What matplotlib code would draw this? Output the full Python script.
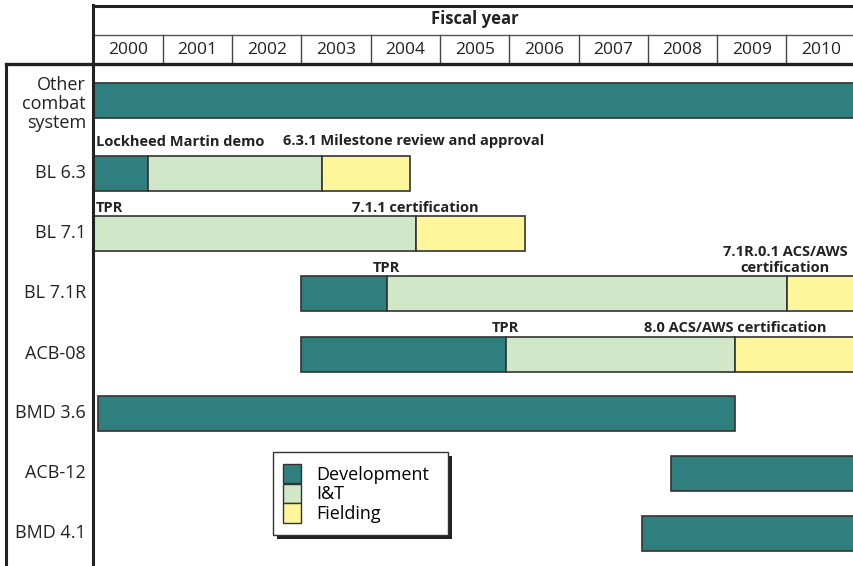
import matplotlib
matplotlib.use("Agg")
import matplotlib.pyplot as plt
from matplotlib.patches import Patch, Rectangle
from matplotlib.lines import Line2D

# ---------------- data ----------------
years = ["2000", "2001", "2002", "2003", "2004", "2005", "2006", "2007", "2008", "2009", "2010"]
rows = ["Other\ncombat\nsystem", "BL 6.3", "BL 7.1", "BL 7.1R", "ACB-08", "BMD 3.6", "ACB-12", "BMD 4.1"]
# phases per row: (start, end) in fiscal-year units (0 = start of FY2000), None = no phase
dev_start = [0.0, 0.0, None, 2.99, 2.99, 0.07, 8.34, 7.92]
dev_end   = [11.5, 0.79, None, 4.23, 5.95, 9.26, 11.5, 11.5]
it_start  = [None, 0.79, 0.0, 4.23, 5.95, None, None, None]
it_end    = [None, 3.30, 4.65, 10.01, 9.26, None, None, None]
fld_start = [None, 3.30, 4.65, 10.01, 9.26, None, None, None]
fld_end   = [None, 4.57, 6.23, 11.5, 11.5, None, None, None]
phases = ["Development", "I&T", "Fielding"]
colors = ["#2f7f7f", "#d1e8c8", "#fff59a"]

# milestone annotations: row index, x in FY units, text, alignment
ann_row = [1, 1, 2, 2, 3, 3, 4, 4]
ann_x = [0.03, 4.62, 0.03, 4.65, 4.23, 9.98, 5.95, 9.26]
ann_text = ["Lockheed Martin demo", "6.3.1 Milestone review and approval", "TPR",
            "7.1.1 certification", "TPR", "7.1R.0.1 ACS/AWS\ncertification", "TPR",
            "8.0 ACS/AWS certification"]
ann_ha = ["left", "center", "left", "center", "center", "center", "center", "center"]

# ---------------- layout ----------------
W, H = 854, 566
plt.rcParams["font.family"] = ["Open Sans", "DejaVu Sans"]
fig = plt.figure(figsize=(W / 100, H / 100), dpi=100)

x0px, y_hdr_top, y_mid, y_hdr_bot = 93.5, 5.5, 35, 63.5
yr_px = 69.3  # pixels per fiscal year


def fx(px):
    return px / W


def fy(py):
    return 1 - py / H


# main bar axes
ax = fig.add_axes([fx(x0px), 0, 1 - fx(x0px), fy(y_hdr_bot)])
xmax = (W - x0px) / yr_px
ax.set_xlim(0, xmax)
row_px = [100, 173, 233, 293, 354, 413, 473, 533]
ypos = [(p - 113) / 60 for p in row_px]
ax.set_ylim((H - 113) / 60, (y_hdr_bot - 113) / 60)
ax.axis("off")
bh = 35 / 60

starts = [dev_start, it_start, fld_start]
ends = [dev_end, it_end, fld_end]
for k in range(3):
    for i in range(len(rows)):
        s, e = starts[k][i], ends[k][i]
        if s is None:
            continue
        ax.barh(ypos[i], e - s, left=s, height=bh, color=colors[k],
                edgecolor="#333333", linewidth=1.2, zorder=2)

for r, x, t, ha in zip(ann_row, ann_x, ann_text, ann_ha):
    gap = (7 if r == 1 else 1) / 60
    yy = ypos[r] - bh / 2 - gap
    ax.text(x, yy, t, ha=ha, va="bottom", fontsize=10.5, fontweight="bold",
            color="#222222", linespacing=1.12, zorder=3)

# row labels
for i, lab in enumerate(rows):
    off = 4 if "\n" in lab else 0
    fig.text(fx(86), fy(row_px[i] + off), lab, ha="right", va="center", fontsize=13,
             color="#222222", linespacing=1.08)

# header
for j, y in enumerate(years):
    cx = x0px + (j + 0.5) * yr_px
    fig.text(fx(cx), fy(49.5), y, ha="center", va="center", fontsize=12.5, color="#222222")
    if j > 0:
        bx = x0px + j * yr_px
        fig.add_artist(Line2D([fx(bx), fx(bx)], [fy(y_mid), fy(y_hdr_bot)],
                              color="#444444", lw=1.0))
fig.text(fx(475), fy(19), "Fiscal year", ha="center", va="center", fontsize=12,
         fontweight="bold", color="#222222")

dark = "#222222"
fig.add_artist(Line2D([fx(x0px), 1], [fy(y_hdr_top), fy(y_hdr_top)], color=dark, lw=2.2))
fig.add_artist(Line2D([fx(x0px), 1], [fy(y_mid), fy(y_mid)], color="#555555", lw=1.0))
fig.add_artist(Line2D([fx(6), 1], [fy(y_hdr_bot), fy(y_hdr_bot)], color=dark, lw=2.4))
fig.add_artist(Line2D([fx(x0px), fx(x0px)], [fy(y_hdr_top - 1), 0], color=dark, lw=2.2))
fig.add_artist(Line2D([fx(6.5), fx(6.5)], [fy(y_hdr_bot), 0], color=dark, lw=2.2))

# legend with drop shadow
lx0, ly0, lx1, ly1 = 273, 452, 448, 535
fig.add_artist(Rectangle((fx(lx0 + 4), fy(ly1 + 4)), fx(lx1 - lx0), (ly1 - ly0) / H,
                         transform=fig.transFigure, facecolor="#222222", edgecolor="none"))
fig.add_artist(Rectangle((fx(lx0), fy(ly1)), fx(lx1 - lx0), (ly1 - ly0) / H,
                         transform=fig.transFigure, facecolor="white", edgecolor="#333333", lw=1.0))
handles = [Patch(facecolor=c, edgecolor="#333333", lw=1.0) for c in colors]
leg = fig.legend(handles, phases, loc="center left",
                 bbox_to_anchor=(fx(lx0 + 1), fy((ly0 + ly1) / 2)),
                 frameon=False, fontsize=13, handlelength=1.0, handleheight=1.3,
                 handletextpad=0.85, labelspacing=0.0, borderpad=0)

fig.savefig("out.png", dpi=100)
